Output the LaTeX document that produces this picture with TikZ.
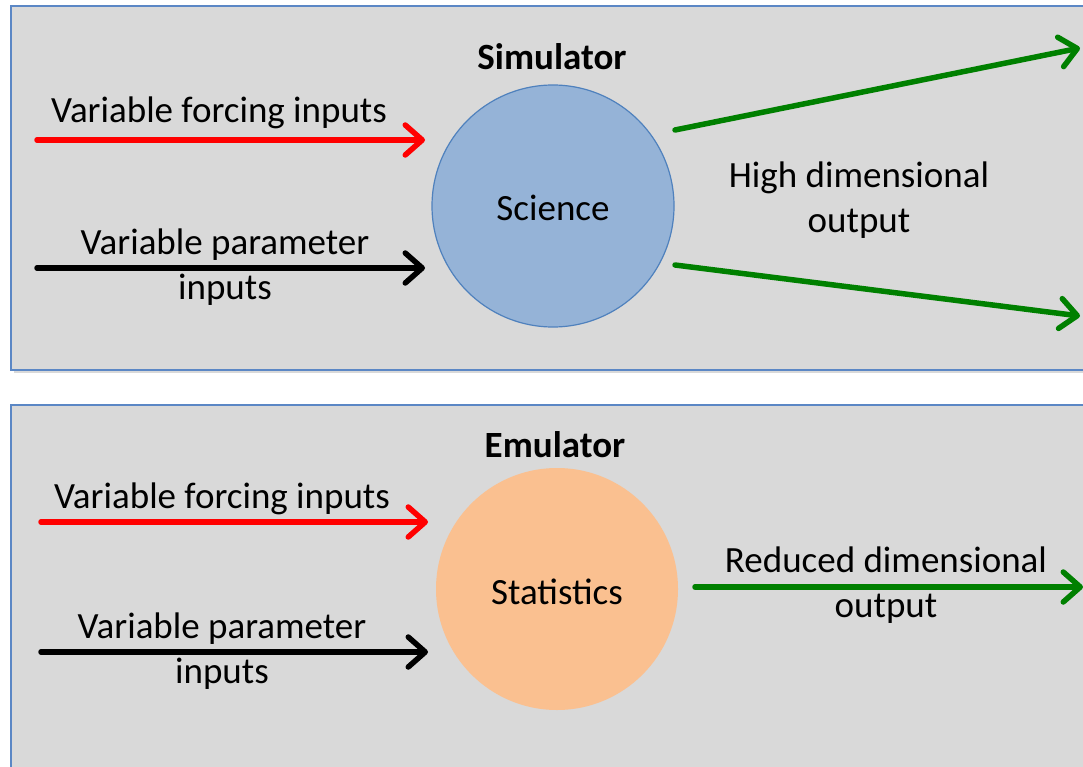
\documentclass[tikz,border=0pt]{standalone}
\usepackage{fontspec}
\setmainfont{Carlito}
\usetikzlibrary{arrows.meta,shadows}
\definecolor{boxfill}{HTML}{D9D9D9}
\definecolor{boxline}{HTML}{5B87C5}
\definecolor{scifill}{HTML}{95B3D7}
\definecolor{sciline}{HTML}{4F81BD}
\definecolor{statfill}{HTML}{FAC090}
\definecolor{arrgreen}{HTML}{008000}
\definecolor{arrred}{HTML}{FF0000}
\tikzset{
  panel/.style={draw=boxline,line width=2pt,fill=boxfill,drop shadow={shadow xshift=3pt,shadow yshift=-3pt,opacity=0.3}},
  lbl/.style={font=\fontsize{37}{45}\selectfont,text=black,align=center,inner sep=0pt},
  ttl/.style={lbl,font=\fontsize{37}{45}\selectfont\bfseries},
  arr/.style={line width=5.5pt,-{Straight Barb[length=17pt,width=30pt,round]},line cap=round},
}
\begin{document}
\begin{tikzpicture}[x=1pt,y=-1pt]
\useasboundingbox (0,0) rectangle (1083,767);
% panels
\path[panel] (11,6) rectangle (1100,370);
\path[panel] (11,405) rectangle (1100,790);
% top
\node[circle,draw=sciline,line width=1.2pt,fill=scifill,minimum size=242pt,inner sep=0pt] (sci) at (553,206) {};
\node[lbl] (scit) at (553,208) {Science};
\node[ttl] (simt) at (552,57) {Simulator};
\coordinate (r1s) at (37,140); \coordinate (r1e) at (425,140);
\coordinate (b1s) at (37,268); \coordinate (b1e) at (425,268);
\coordinate (g1s) at (675,130); \coordinate (g1e) at (1080,48);
\coordinate (g2s) at (675,265); \coordinate (g2e) at (1080,316);
\draw[arr,arrred] (r1s) -- (r1e);
\draw[arr,black] (b1s) -- (b1e);
\draw[arr,arrgreen] (g1s) -- (g1e);
\draw[arr,arrgreen] (g2s) -- (g2e);
\node[lbl] (f1) at (219,113) {Variable forcing inputs};
\node[lbl] (p1) at (225,267) {Variable parameter\\inputs};
\node[lbl] (h1) at (859,200) {High dimensional\\output};
% bottom
\node[circle,fill=statfill,minimum size=242pt,inner sep=0pt] (stat) at (557,589) {};
\node[lbl] (statt) at (557,592) {Statistics};
\node[ttl] (emt) at (555,445) {Emulator};
\coordinate (r2s) at (41,522); \coordinate (r2e) at (428,522);
\coordinate (b2s) at (41,652); \coordinate (b2e) at (428,652);
\coordinate (g3s) at (695,587); \coordinate (g3e) at (1083,587);
\draw[arr,arrred] (r2s) -- (r2e);
\draw[arr,black] (b2s) -- (b2e);
\draw[arr,arrgreen] (g3s) -- (g3e);
\node[lbl] (f2) at (222,499) {Variable forcing inputs};
\node[lbl] (p2) at (222,651) {Variable parameter\\inputs};
\node[lbl] (h2) at (886,585) {Reduced dimensional\\output};
\end{tikzpicture}
\end{document}
